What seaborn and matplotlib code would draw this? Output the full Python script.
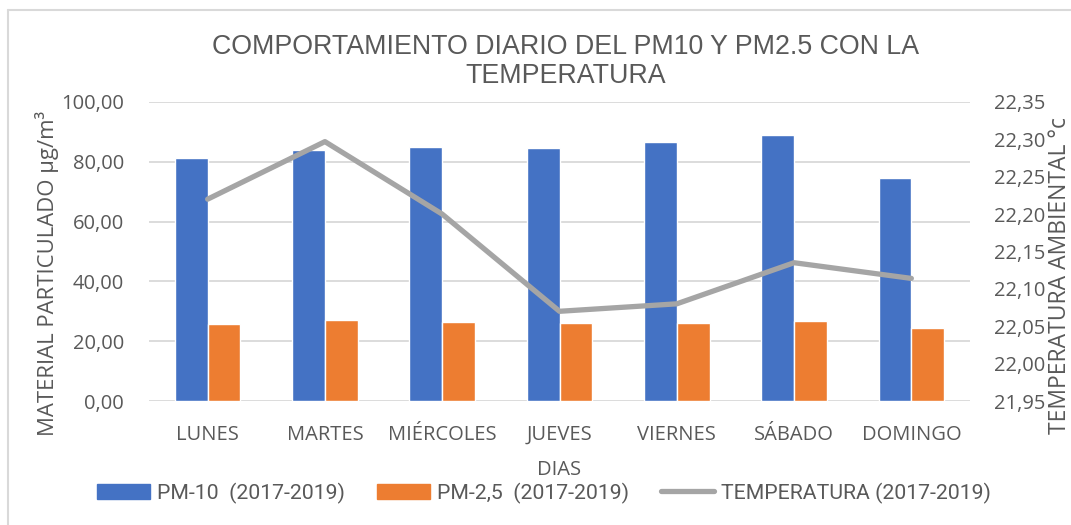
import numpy as np
import pandas as pd
import matplotlib
matplotlib.use("Agg")
import matplotlib.pyplot as plt
from matplotlib import font_manager
from matplotlib.ticker import FuncFormatter, FixedLocator
from matplotlib.patches import Patch
from matplotlib.lines import Line2D
import seaborn as sns

days = ["LUNES", "MARTES", "MIÉRCOLES", "JUEVES", "VIERNES", "SÁBADO", "DOMINGO"]
pm10 = [81.3, 84.0, 84.9, 84.6, 86.6, 88.8, 74.6]
pm25 = [25.8, 27.0, 26.3, 26.1, 26.1, 26.9, 24.5]
temp = [22.22, 22.297, 22.20, 22.07, 22.08, 22.135, 22.114]
series_names = ["PM-10  (2017-2019)", "PM-2,5  (2017-2019)"]
temp_name = "TEMPERATURA (2017-2019)"
left_ticks = [0, 20, 40, 60, 80, 100]
right_ticks = [21.95, 22.00, 22.05, 22.10, 22.15, 22.20, 22.25, 22.30, 22.35]

sns.set_theme(style="white")
avail = {f.name for f in font_manager.fontManager.ttflist}
main_font = "Open Sans" if "Open Sans" in avail else "DejaVu Sans"
title_font = "Liberation Sans" if "Liberation Sans" in avail else main_font
narrow_font = "Liberation Sans Narrow" if "Liberation Sans Narrow" in avail else "Roboto"
plt.rcParams["font.family"] = [main_font, "DejaVu Sans"]
txt = "#595959"

df = pd.DataFrame({
    "dia": days * 2,
    "valor": pm10 + pm25,
    "serie": [series_names[0]] * 7 + [series_names[1]] * 7,
})

fig = plt.figure(figsize=(10.71, 5.25), dpi=100)
ax = fig.add_axes([149 / 1071, 1 - 401 / 525, (970 - 149) / 1071, (401 - 102) / 525])

sns.barplot(data=df, x="dia", y="valor", hue="serie", order=days,
            palette=["#4472C4", "#ED7D31"], width=0.56, ax=ax,
            saturation=1, legend=False, errorbar=None)
ax.set_ylim(0, 100)
ax.yaxis.set_major_locator(FixedLocator(left_ticks))
ax.yaxis.set_major_formatter(FuncFormatter(lambda v, p: f"{v:.2f}".replace(".", ",")))
ax.grid(axis="y", color="#D9D9D9", linewidth=1.3)
ax.set_axisbelow(True)
for s in ax.spines.values():
    s.set_visible(False)
ax.tick_params(axis="y", length=0, labelsize=14.5, colors=txt, pad=18)
ax.tick_params(axis="x", length=0, labelsize=14.5, colors=txt, pad=17)
ax.set_xlabel("DIAS", fontsize=14.5, color=txt, labelpad=11)
ax.set_ylabel("")
ax.set_xlim(-0.5, 6.5)

ax2 = ax.twinx()
sns.lineplot(x=np.arange(len(days)), y=temp, ax=ax2, color="#A5A5A5",
             linewidth=3.8, label=temp_name, legend=False)
ax2.set_ylim(21.95, 22.35)
ax2.yaxis.set_major_locator(FixedLocator(right_ticks))
ax2.yaxis.set_major_formatter(FuncFormatter(lambda v, p: f"{v:.2f}".replace(".", ",")))
ax2.tick_params(axis="y", length=0, labelsize=14.5, colors=txt, pad=17.5)
ax2.grid(False)
for s in ax2.spines.values():
    s.set_visible(False)
ax2.set_xlim(-0.5, 6.5)

fig.text(566 / 1071, 1 - 47 / 525, "COMPORTAMIENTO DIARIO DEL PM10 Y PM2.5 CON LA",
         ha="center", va="center", fontsize=19.3, color=txt,
         family=[title_font, "DejaVu Sans"])
fig.text(566 / 1071, 1 - 76 / 525, "TEMPERATURA",
         ha="center", va="center", fontsize=19.3, color=txt,
         family=[title_font, "DejaVu Sans"])
fig.text(47 / 1071, 1 - 273 / 525, "MATERIAL PARTICULADO µg/m³", rotation=90,
         ha="center", va="center", fontsize=15.9, color=txt)
fig.text(1060 / 1071, 1 - 276 / 525, "TEMPERATURA AMBIENTAL °c", rotation=90,
         ha="center", va="center", fontsize=16.5, color=txt)

handles = [Patch(color="#4472C4"), Patch(color="#ED7D31"),
           Line2D([0], [0], color="#A5A5A5", linewidth=3.8)]
labels = series_names + [temp_name]
leg = fig.legend(handles, labels, loc="center", bbox_to_anchor=(544 / 1071, 1 - 493 / 525),
                 ncol=3, frameon=False, handlelength=2.5, handleheight=0.7,
                 handletextpad=0.33, columnspacing=1.5,
                 prop={"family": [narrow_font, "DejaVu Sans"], "size": 15.3})
for t in leg.get_texts():
    t.set_color(txt)

# chart-area border (top and left)
fig.add_artist(Line2D([8 / 1071, 8 / 1071], [0, 1 - 10 / 525], color="#D9D9D9", linewidth=1.5,
                      transform=fig.transFigure))
fig.add_artist(Line2D([8 / 1071, 1], [1 - 10 / 525, 1 - 10 / 525], color="#D9D9D9", linewidth=1.5,
                      transform=fig.transFigure))

fig.savefig("out.png", dpi=100)
